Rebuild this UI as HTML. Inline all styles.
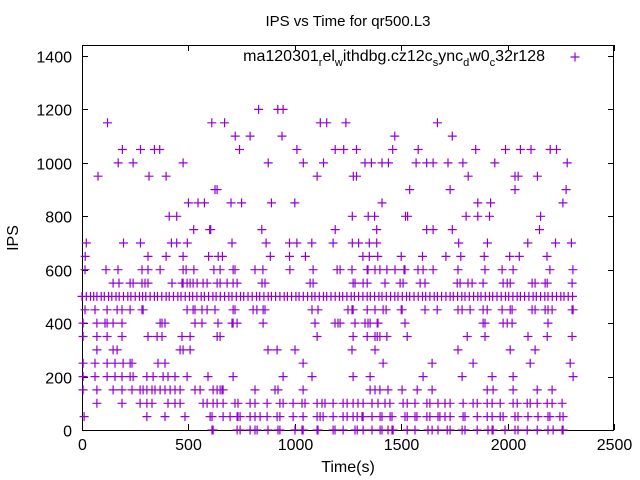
<!DOCTYPE html>
<html><head><meta charset="utf-8"><style>
body{margin:0;background:#fff}
svg{display:block;font-family:"Liberation Sans",sans-serif}
</style></head><body>
<svg id="chart" width="640" height="480">
<rect x="0" y="0" width="640" height="480" fill="#fff"/>
<text x="348" y="26" font-size="15" text-anchor="middle">IPS vs Time for qr500.L3</text>
<text x="18" y="238" font-size="16" text-anchor="middle" transform="rotate(-90 18 238)">IPS</text>
<text x="348" y="472" font-size="16" text-anchor="middle">Time(s)</text>
<g id="axes"></g>
<g id="marks"></g>
<g>
<text x="545" y="61" font-size="16" text-anchor="end">ma120301<tspan font-size="11" dy="5">r</tspan><tspan dy="-5">el</tspan><tspan font-size="11" dy="5">w</tspan><tspan dy="-5">ithdbg.cz12c</tspan><tspan font-size="11" dy="5">s</tspan><tspan dy="-5">ync</tspan><tspan font-size="11" dy="5">d</tspan><tspan dy="-5">w0</tspan><tspan font-size="11" dy="5">c</tspan><tspan dy="-5">32r128</tspan></text>
<path d="M570.5 57h9M575 52.5v9" stroke="#9400d3" stroke-width="1.2"/>
</g>
</svg>
<script>
const xTicks=[0,500,1000,1500,2000,2500];
const yTicks=[0,200,400,600,800,1000,1200,1400];
const levels=[1200,1150,1100,1050,1000,950,900,850,800,750,700,650,600,550,500,450,400,350,300,250,200,150,100,50,0];
const t1200=[830,920,945];
const t1150=[120,610,670,1120,1150,1240,1670];
const t1100=[720,790,940,1470,1740];
const t1050=[190,275,340,365,740,1010,1190,1230,1290,1460,1580,1850,1990,2060,2110,2200,2230];
const t1000=[170,240,475,875,1040,1135,1330,1360,1410,1440,1570,1620,1650,1720,1790,1940,2280];
const t950=[75,315,395,1105,1275,1290,1815,2035,2050,2140];
const t900=[625,635,1540,1730,2035,2275];
const t850=[500,545,575,700,750,890,1000,1410,1860,1920,2260];
const t800=[410,445,1270,1345,1375,1520,1530,1805,1860,1915,2155];
const t750=[525,600,605,845,1190,1385,1620,1650,1740,2150];
const t700=[20,195,275,420,445,495,705,865,975,1010,1080,1180,1270,1300,1350,1385,1770,1905,2095,2225,2300];
const t650=[15,310,395,475,595,640,660,885,975,1050,1320,1350,1390,1500,1600,1710,1780,1890,2010,2055,2185];
const t600=[14,113,169,282,310,367,475,489,526,620,649,710,719,813,850,977,1086,1199,1213,1269,1340,1344,1377,1400,1433,1471,1513,1518,1579,1603,1650,1767,1894,1974,2026,2199,2307];
const t550=[146,174,226,240,282,296,310,423,470,475,494,508,522,541,569,588,635,649,682,710,729,846,860,1072,1086,1274,1283,1321,1340,1424,1495,1509,1589,1612,1763,1777,1814,1833,1885,1979,1998,2012,2115,2129,2176,2186,2303];
const t500=[0,20,40,55,70,90,105,125,140,160,175,195,215,230,250,270,285,300,320,340,355,375,395,410,430,450,465,485,505,520,540,560,575,595,615,630,650,670,690,705,725,745,760,780,800,820,835,855,875,890,910,930,950,965,985,1005,1020,1040,1060,1080,1095,1115,1135,1150,1170,1190,1210,1225,1245,1265,1280,1300,1320,1340,1355,1375,1395,1410,1430,1450,1470,1485,1505,1525,1540,1560,1580,1600,1615,1635,1655,1670,1690,1710,1730,1745,1765,1785,1800,1820,1840,1860,1875,1895,1915,1930,1950,1970,1990,2005,2025,2045,2060,2080,2100,2120,2135,2155,2175,2190,2210,2230,2250,2265,2285,2305];
const t450=[14,61,118,165,188,226,282,287,494,522,531,564,588,625,710,719,804,822,851,860,1081,1109,1250,1269,1274,1340,1377,1415,1429,1500,1504,1612,1669,1767,1786,1824,1885,1904,1974,2012,2021,2115,2129,2176,2190,2209,2303,2308];
const t400=[5,70,108,118,146,188,367,376,390,531,564,639,705,710,729,851,1095,1189,1203,1213,1283,1330,1344,1354,1387,1391,1518,1885,1894,1979,1998,2021,2190];
const t350=[5,70,118,188,310,353,376,470,508,635,649,1105,1274,1340,1377,1387,1400,1433,1528,1810,1894,2096,2186,2303];
const t300=[70,146,165,461,475,508,874,917,1001,1269,1377,1767,2012,2129];
const t250=[5,61,118,155,193,226,235,357,390,1039,1415,1645,1838,2106,2294];
const t200=[5,61,118,155,188,226,240,305,334,381,404,437,494,592,710,945,1081,1274,1354,1603,1786,1927,2026,2308];
const t150=[5,70,146,188,235,273,287,305,329,343,367,390,414,437,461,531,555,616,635,649,658,663,813,907,921,1039,1354,1377,1400,1438,1504,1575,1645,1904,1932,2026,2139,2209];
const t100=[70,188,273,305,329,404,437,461,569,588,616,635,663,719,733,790,813,870,930,945,992,1034,1048,1105,1128,1142,1180,1227,1246,1274,1297,1321,1363,1391,1424,1447,1509,1528,1565,1621,1635,1673,1706,1730,1791,1838,1857,1904,1927,1965,2026,2045,2092,2106,2139,2186,2209,2256];
const t50=[10,305,390,484,602,611,663,696,729,733,743,790,813,837,870,917,930,992,1039,1105,1119,1133,1180,1227,1246,1274,1293,1316,1321,1363,1401,1410,1448,1457,1518,1528,1565,1574,1621,1635,1673,1682,1706,1730,1791,1800,1857,1904,1927,1965,1979,2035,2049,2096,2143,2190,2199,2246,2261];
const t0=[611,616,729,743,790,813,823,874,921,930,1001,1034,1039,1105,1109,1180,1189,1227,1283,1293,1321,1363,1401,1410,1438,1457,1462,1528,1565,1626,1645,1673,1716,1730,1786,1800,1857,1908,1927,1932,1988,2035,2049,2092,2139,2190,2214,2256,2261];
const times=[t1200,t1150,t1100,t1050,t1000,t950,t900,t850,t800,t750,t700,t650,t600,t550,t500,t450,t400,t350,t300,t250,t200,t150,t100,t50,t0];

const L=82,R=614,T=45,B=430;
const X=v=>L+v*(R-L)/2500;
const Y=v=>B-v*(374/1400);
const NS='http://www.w3.org/2000/svg';
const axes=document.getElementById('axes');
function mk(tag,attrs,parent){const e=document.createElementNS(NS,tag);for(const k in attrs)e.setAttribute(k,attrs[k]);parent.appendChild(e);return e;}
const frame=mk('rect',{x:L+0.5,y:T+0.5,width:R-L-1,height:B-T,fill:'none',stroke:'#000','stroke-width':1},axes);


xTicks.forEach(v=>{const x=Math.round(X(v))+0.5;
 mk('path',{d:`M${x} ${B}v-6M${x} ${T}v6`,stroke:'#000'},axes);
 const t=mk('text',{x:x,y:B+20,'font-size':16,'text-anchor':'middle'},axes);t.textContent=v;
 
 
});
yTicks.forEach(v=>{const y=Math.round(Y(v))+0.5;
 mk('path',{d:`M${L} ${y}h6M${R} ${y}h-6`,stroke:'#000'},axes);
 const t=mk('text',{x:L-10,y:y+6,'font-size':16,'text-anchor':'end'},axes);t.textContent=v;
 
 
});
const marks=document.getElementById('marks');
let d='';
levels.forEach((lv,i)=>{const y=Y(lv);times[i].forEach(t=>{const x=X(t);d+=`M${(x-4.5).toFixed(1)} ${y.toFixed(1)}h9M${x.toFixed(1)} ${(y-4.5).toFixed(1)}v9`;});});
const p=mk('path',{d:d,stroke:'#9400d3','stroke-width':1.2,fill:'none'},marks);


</script>
</body></html>
